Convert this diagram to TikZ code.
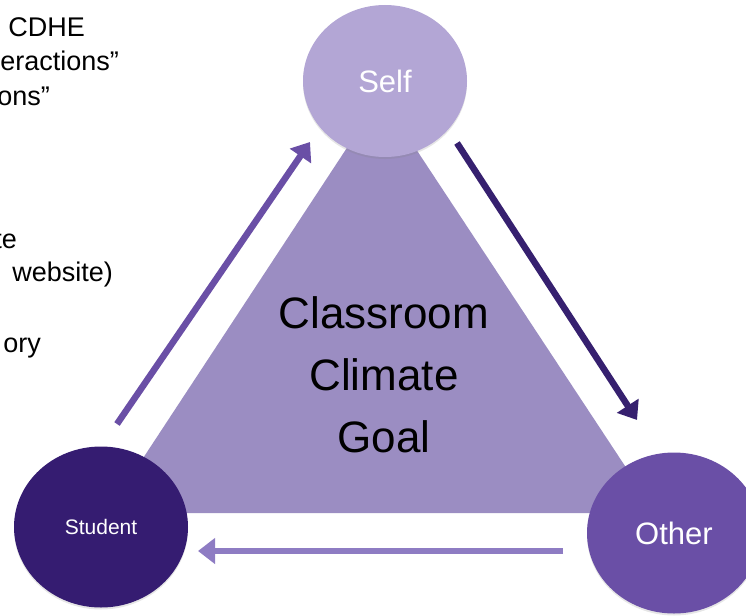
\documentclass[tikz,border=0pt]{standalone}
\usepackage{fontspec}
\setmainfont{Liberation Sans}
\usepackage{tikz}
\usetikzlibrary{positioning, arrows.meta, shapes.geometric, shadows}

\definecolor{goalpurple}{HTML}{9B8DC2}
\definecolor{selfpurple}{HTML}{B3A6D5}
\definecolor{studentpurple}{HTML}{351C71}
\definecolor{otherpurple}{HTML}{6A4FA6}
\definecolor{uparrow}{HTML}{6A4FA6}
\definecolor{downarrow}{HTML}{36206F}
\definecolor{backarrow}{HTML}{8E7CC3}

\begin{document}
\begin{tikzpicture}[x=1pt, y=-1pt,
    bubble/.style={ellipse, inner sep=0pt, text=white, drop shadow={shadow xshift=0pt, shadow yshift=-2pt, opacity=0.2}},
    flow/.style={line width=6.5pt, -{Triangle[length=17pt, width=25pt]}},
    side/.style={anchor=base east, inner sep=0pt, font=\fontsize{27}{31}\selectfont}]
    \useasboundingbox (0,0) rectangle (746,615);
    \clip (0,0) rectangle (746,615);

    \node (t1) [side] at (85,37) {CDHE};
    \node (t2) [side] at (119,71) {eractions”};
    \node (t3) [side] at (50,106) {ons”};
    \node (t4) [side] at (17,248) {te};
    \node (t5) [side] at (113,281) {website)};
    \node (t6) [side] at (41,352) {ory};

    \fill [goalpurple] (107,513) -- (656,513) -- (381,96) -- cycle;
    \node (goal) [align=center, inner sep=0pt, font=\fontsize{44}{62}\selectfont] at (384,375) {Classroom\\Climate\\Goal};

    \coordinate (a1) at (117,424);
    \coordinate (a2) at (310,142);
    \coordinate (b1) at (457,143);
    \coordinate (b2) at (637,420);
    \coordinate (c1) at (563,551);
    \coordinate (c2) at (198,551);
    \draw [flow, uparrow] (a1) -- (a2);
    \draw [flow, downarrow] (b1) -- (b2);
    \draw [flow, backarrow] (c1) -- (c2);

    \node (self) [bubble, fill=selfpurple, minimum width=164pt, minimum height=152pt, font=\fontsize{31}{36}\selectfont] at (385,81) {Self};
    \node (student) [bubble, fill=studentpurple, minimum width=174pt, minimum height=161pt, font=\fontsize{21}{25}\selectfont] at (101,527) {Student};
    \node (other) [bubble, fill=otherpurple, minimum width=174pt, minimum height=161pt, font=\fontsize{31}{36}\selectfont] at (674,533) {Other};
\end{tikzpicture}
\end{document}
